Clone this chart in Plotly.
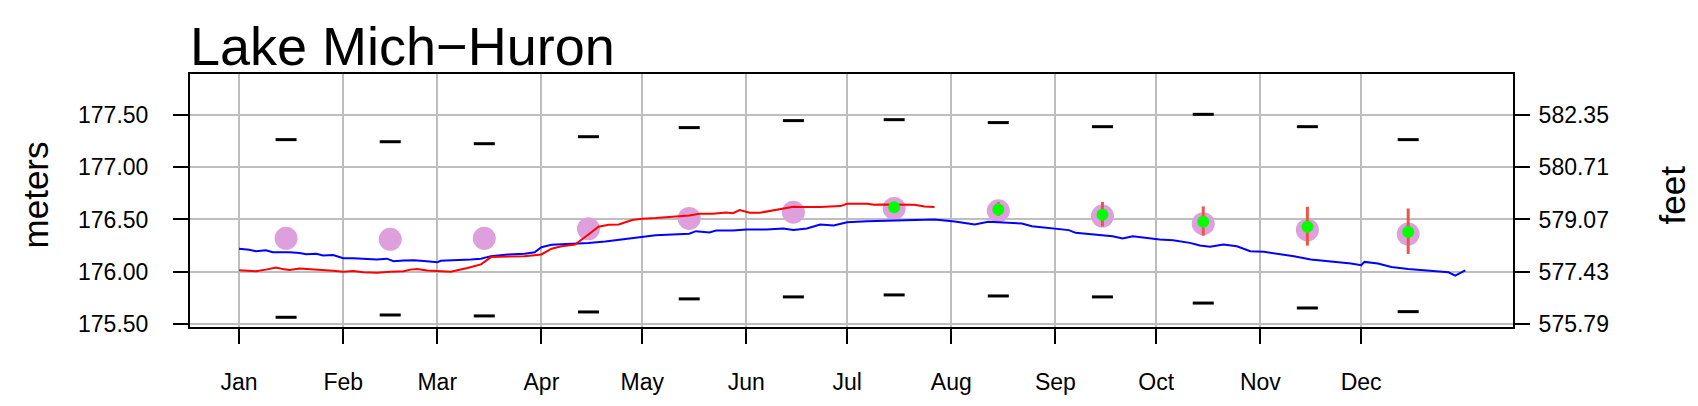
import plotly.graph_objects as go

FT_PER_M = 3.28084

month_names = ["Jan", "Feb", "Mar", "Apr", "May", "Jun", "Jul", "Aug", "Sep", "Oct", "Nov", "Dec"]
month_start_day = [0, 31, 59, 90, 120, 151, 181, 212, 243, 273, 304, 334]
mid_month_day = [14, 45, 73, 104, 134, 165, 195, 226, 257, 287, 318, 348]

# long-term monthly means and period-of-record extremes (meters)
lta_mean = [176.32, 176.31, 176.32, 176.41, 176.51, 176.57, 176.605, 176.583, 176.532, 176.46, 176.40, 176.36]
record_high = [177.264, 177.244, 177.225, 177.292, 177.379, 177.446, 177.455, 177.427, 177.388, 177.506, 177.388, 177.264]
record_low = [175.564, 175.586, 175.577, 175.615, 175.740, 175.759, 175.778, 175.768, 175.759, 175.700, 175.653, 175.618]

# six-month forecast with probable range
forecast_day = [195, 226, 257, 287, 318, 348]
forecast = [176.618, 176.596, 176.545, 176.478, 176.430, 176.380]
forecast_hi = [176.640, 176.665, 176.668, 176.625, 176.622, 176.605]
forecast_lo = [176.600, 176.535, 176.432, 176.345, 176.250, 176.170]

# daily levels, current year (red) and last year (blue)
red_day = [0, 3, 5, 8, 11, 13, 15, 18, 20, 23, 25, 28, 31, 34, 37, 41, 45, 49, 51, 53, 56, 59, 63,
           68, 72, 75, 80, 85, 90, 93, 96, 100, 104, 107, 110, 113, 117, 120, 124, 129, 134, 137,
           141, 145, 147, 149, 152, 155, 159, 163, 165, 167, 173, 179, 181, 187, 189, 191, 197,
           201, 204, 207]
red_level = [176.014, 176.008, 176.005, 176.020, 176.040, 176.025, 176.017, 176.030, 176.027, 176.018,
             176.014, 176.010, 176.000, 176.006, 175.995, 175.990, 176.000, 176.005, 176.020, 176.027,
             176.012, 176.005, 176.000, 176.036, 176.070, 176.140, 176.142, 176.149, 176.165, 176.220,
             176.244, 176.260, 176.356, 176.430, 176.449, 176.452, 176.494, 176.506, 176.513, 176.526,
             176.538, 176.554, 176.554, 176.567, 176.560, 176.590, 176.564, 176.564, 176.586, 176.612,
             176.621, 176.620, 176.620, 176.628, 176.650, 176.650, 176.640, 176.644, 176.644, 176.640,
             176.625, 176.620]

blue_day = [0, 3, 5, 8, 10, 13, 15, 18, 20, 23, 25, 28, 31, 34, 37, 41, 44, 46, 49, 52, 55, 59, 60,
            64, 69, 72, 75, 80, 85, 88, 90, 93, 99, 104, 109, 114, 120, 124, 129, 134, 136, 140,
            142, 147, 151, 157, 162, 165, 169, 173, 177, 181, 187, 193, 199, 207, 213, 219, 223,
            227, 233, 236, 244, 247, 249, 256, 260, 263, 266, 274, 278, 283, 286, 289, 293, 297,
            301, 305, 309, 314, 319, 324, 328, 331, 334, 335, 339, 343, 348, 353, 357, 360, 362, 365]
blue_level = [176.219, 176.210, 176.196, 176.205, 176.187, 176.190, 176.187, 176.180, 176.168, 176.172,
              176.155, 176.160, 176.130, 176.128, 176.123, 176.117, 176.125, 176.100, 176.108, 176.110,
              176.102, 176.090, 176.104, 176.107, 176.117, 176.125, 176.149, 176.165, 176.171, 176.187,
              176.235, 176.257, 176.264, 176.276, 176.289, 176.308, 176.334, 176.350, 176.356, 176.363,
              176.388, 176.375, 176.395, 176.395, 176.404, 176.404, 176.414, 176.400, 176.414, 176.452,
              176.442, 176.474, 176.484, 176.490, 176.497, 176.500, 176.481, 176.452, 176.478, 176.471,
              176.462, 176.436, 176.404, 176.398, 176.372, 176.350, 176.340, 176.318, 176.340, 176.308,
              176.302, 176.276, 176.250, 176.240, 176.260, 176.244, 176.196, 176.190, 176.174, 176.149,
              176.117, 176.100, 176.090, 176.078, 176.062, 176.094, 176.078, 176.046, 176.027, 176.011,
              175.998, 175.995, 175.963, 176.014]

meter_ticks = [175.5, 176.0, 176.5, 177.0, 177.5]
y_range = [175.471, 177.892]
x_range = [-14.6, 379.2]

FONT = "Liberation Sans, Arial, sans-serif"

fig = go.Figure()

fig.add_trace(go.Scatter(x=mid_month_day, y=lta_mean, mode="markers",
                         marker=dict(color="#DDA0DD", size=23)))
fig.add_trace(go.Scatter(x=blue_day, y=blue_level, mode="lines",
                         line=dict(color="#0000FF", width=2)))
fig.add_trace(go.Scatter(x=red_day, y=red_level, mode="lines",
                         line=dict(color="#FF0000", width=2)))
fig.add_trace(go.Scatter(
    x=forecast_day, y=forecast, mode="markers",
    marker=dict(color="#00FF00", size=12),
    error_y=dict(type="data", symmetric=False,
                 array=[h - f for h, f in zip(forecast_hi, forecast)],
                 arrayminus=[f - lo for f, lo in zip(forecast, forecast_lo)],
                 color="#E8584A", thickness=3, width=0),
))
# record extremes drawn against the feet axis so the right-hand scale is live
for series in (record_high, record_low):
    fig.add_trace(go.Scatter(x=mid_month_day, y=[v * FT_PER_M for v in series], yaxis="y2",
                             mode="markers",
                             marker=dict(symbol="line-ew", size=15, color="black",
                                         line=dict(color="black", width=3))))

axis_common = dict(showline=True, linecolor="black", linewidth=2, ticks="outside",
                   ticklen=15, tickwidth=2, tickcolor="black", zeroline=False,
                   automargin=False,
                   tickfont=dict(family=FONT, size=23, color="black"))

fig.update_layout(
    width=1698, height=406,
    margin=dict(l=190, r=185, t=74, b=79),
    paper_bgcolor="white", plot_bgcolor="white",
    showlegend=False,
    title=dict(text="Lake Mich\u2212Huron", font=dict(family=FONT, size=54, color="black"),
               xref="container", x=190 / 1698, xanchor="left",
               yref="container", y=1 - 46 / 406, yanchor="middle"),
    xaxis=dict(range=x_range, tickvals=month_start_day, ticktext=month_names,
               showgrid=True, gridcolor="#BEBEBE", gridwidth=2, mirror=True,
               ticklabelstandoff=18, **axis_common),
    yaxis=dict(range=y_range, tickvals=meter_ticks, tickformat=".2f",
               showgrid=True, gridcolor="#BEBEBE", gridwidth=2, mirror=True,
               ticklabelstandoff=20, **axis_common),
    yaxis2=dict(range=[v * FT_PER_M for v in y_range], overlaying="y", side="right",
                tickvals=[v * FT_PER_M for v in meter_ticks],
                ticktext=[f"{v * FT_PER_M:.2f}" for v in meter_ticks],
                showgrid=False, ticklabelstandoff=4, **axis_common),
    annotations=[
        dict(text="meters", xref="paper", yref="paper", x=(35 - 190) / 1323, y=0.52,
             xanchor="center", yanchor="middle",
             textangle=-90, showarrow=False, font=dict(family=FONT, size=35, color="black")),
        dict(text="feet", xref="paper", yref="paper", x=(1672 - 190) / 1323, y=0.52,
             xanchor="center", yanchor="middle",
             textangle=-90, showarrow=False, font=dict(family=FONT, size=35, color="black")),
    ],
)

# drop the default page margin so the 1698x406 figure fills the window exactly
fig.write_html("out.html", config={"displayModeBar": False},
               post_script="document.body.style.margin='0';document.body.style.overflow='hidden';")
